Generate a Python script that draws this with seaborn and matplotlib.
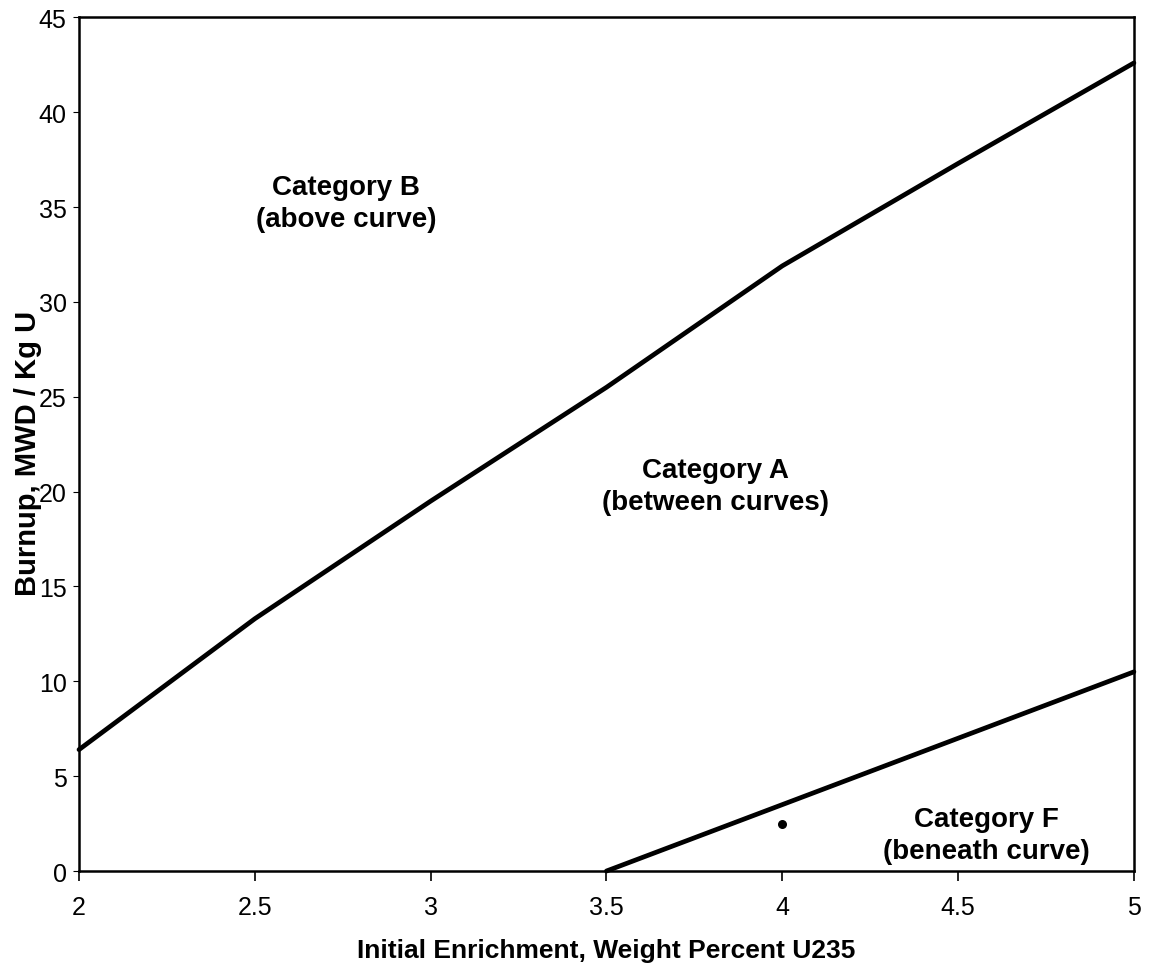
import numpy as np
import pandas as pd
import seaborn as sns
import matplotlib
matplotlib.use("Agg")
import matplotlib.pyplot as plt

# -------------------------
# Data
# -------------------------
enrichment_upper = [2.0, 2.5, 3.0, 3.5, 4.0, 4.5, 5.0]
burnup_upper = [6.4, 13.3, 19.5, 25.5, 31.9, 37.3, 42.6]

enrichment_lower = [3.5, 4.0, 4.5, 5.0]
burnup_lower = [0.0, 3.5, 7.0, 10.5]

dot_x = [4.0]
dot_y = [2.5]

region_labels = ["Category B\n(above curve)",
                 "Category A\n(between curves)",
                 "Category F\n(beneath curve)"]
region_x = [2.76, 3.81, 4.58]
region_y = [35.2, 20.3, 1.9]

x_ticks = [2, 2.5, 3, 3.5, 4, 4.5, 5]
x_tick_labels = ["2", "2.5", "3", "3.5", "4", "4.5", "5"]
y_ticks = [0, 5, 10, 15, 20, 25, 30, 35, 40, 45]

# -------------------------
# Style
# -------------------------
sns.set_theme(style="white")
plt.rcParams["font.family"] = ["Liberation Sans", "DejaVu Sans"]

upper_df = pd.DataFrame({"x": enrichment_upper, "y": burnup_upper})
lower_df = pd.DataFrame({"x": enrichment_lower, "y": burnup_lower})

fig = plt.figure(figsize=(11.5, 9.7), dpi=100)
ax = fig.add_axes([0.0687, 0.101, 0.9173, 0.880])

sns.lineplot(data=upper_df, x="x", y="y", ax=ax, color="black",
             linewidth=3.4, clip_on=False)
sns.lineplot(data=lower_df, x="x", y="y", ax=ax, color="black",
             linewidth=3.4, clip_on=False)
ax.scatter(dot_x, dot_y, s=30, color="black", zorder=3)

for label, x, y in zip(region_labels, region_x, region_y):
    ax.text(x, y, label, ha="center", va="center", fontsize=20,
            fontweight="bold", linespacing=1.3, color="black")

ax.set_xlim(2, 5)
ax.set_ylim(0, 45)
ax.set_xticks(x_ticks)
ax.set_xticklabels(x_tick_labels)
ax.set_yticks(y_ticks)
ax.tick_params(axis="both", labelsize=18, colors="black", direction="out",
               bottom=True, left=True)
ax.tick_params(axis="x", length=7, width=1.2, pad=10)
ax.tick_params(axis="y", length=4, width=0.8, pad=5)

for side in ["top", "bottom", "left", "right"]:
    ax.spines[side].set_color("black")
    ax.spines[side].set_linewidth(1.8)

ax.set_xlabel("Initial Enrichment, Weight Percent U235", fontsize=19,
              fontweight="bold", color="black")
ax.set_ylabel("Burnup, MWD / Kg U", fontsize=21, fontweight="bold",
              color="black")
ax.xaxis.set_label_coords(0.5, -0.078)
ax.yaxis.set_label_coords(-0.035, 0.49)

fig.savefig("out.png", dpi=100, facecolor="white")
plt.close(fig)
